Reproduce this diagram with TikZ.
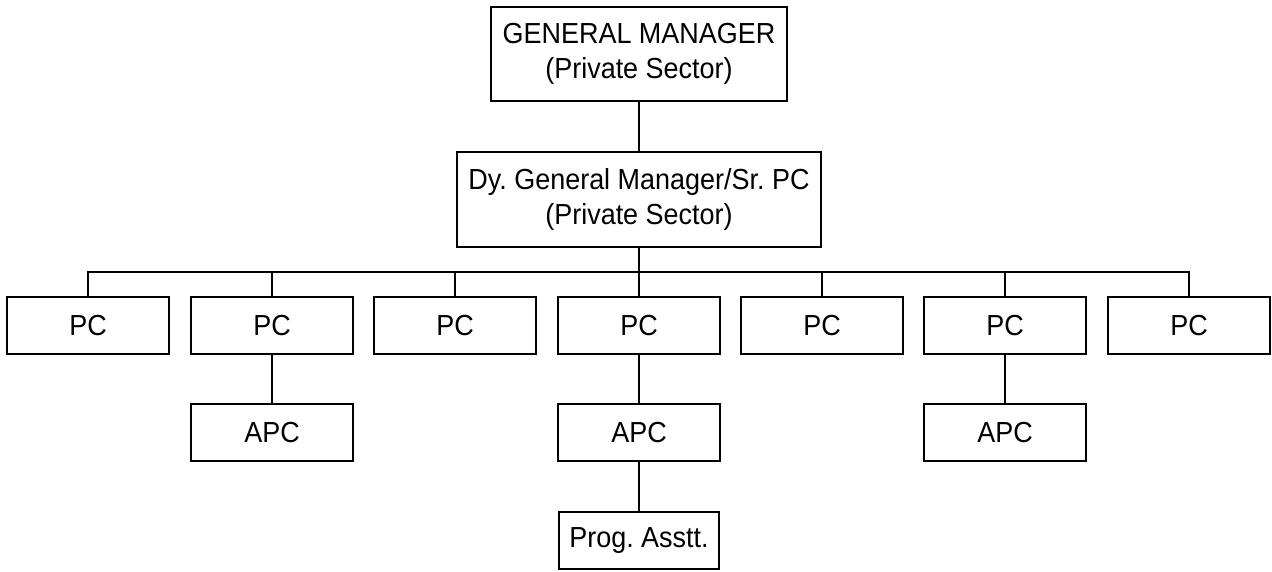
\documentclass[tikz,border=0pt]{standalone}
\usepackage{fontspec}
\setmainfont[FakeStretch=0.93]{Liberation Sans}
\frenchspacing
\begin{document}
\begin{tikzpicture}[x=1pt,y=-1pt,
  box/.style={draw=black,line width=1.4pt,rectangle,inner sep=0pt,align=center,
    font=\fontsize{29}{35}\selectfont},
  gbox/.style={box,minimum width=296pt,minimum height=94pt},
  dbox/.style={box,minimum width=364pt,minimum height=95pt},
  pcbox/.style={box,minimum width=162pt,minimum height=57pt},
  conn/.style={draw=black,line width=1.4pt}]
\useasboundingbox (0,0) rectangle (1272,571);
\node[gbox] (gm) at (639,54) {GENERAL MANAGER\\(Private Sector)};
\node[dbox] (dgm) at (639,199.5) {Dy. General Manager/Sr. PC\\(Private Sector)};
\coordinate (bus) at (639,272);
\node[pcbox] (pc1) at (88,325.5) {PC};
\node[pcbox] (pc2) at (272,325.5) {PC};
\node[pcbox] (pc3) at (455,325.5) {PC};
\node[pcbox] (pc4) at (639,325.5) {PC};
\node[pcbox] (pc5) at (822,325.5) {PC};
\node[pcbox] (pc6) at (1005,325.5) {PC};
\node[pcbox] (pc7) at (1189,325.5) {PC};
\node[pcbox] (apc2) at (272,432.5) {APC};
\node[pcbox] (apc4) at (639,432.5) {APC};
\node[pcbox] (apc6) at (1005,432.5) {APC};
\node[pcbox,minimum width=160pt] (pa) at (639,540.5) {Prog. Asstt.};
\draw[conn] (gm.south) -- (dgm.north);
\draw[conn] (dgm.south) -- (bus);
\foreach \i in {1,...,7} {\draw[conn] (pc\i.north) |- (bus);}
\draw[conn] (pc2.south) -- (apc2.north);
\draw[conn] (pc4.south) -- (apc4.north);
\draw[conn] (pc6.south) -- (apc6.north);
\draw[conn] (apc4.south) -- (pa.north);
\end{tikzpicture}
\end{document}
